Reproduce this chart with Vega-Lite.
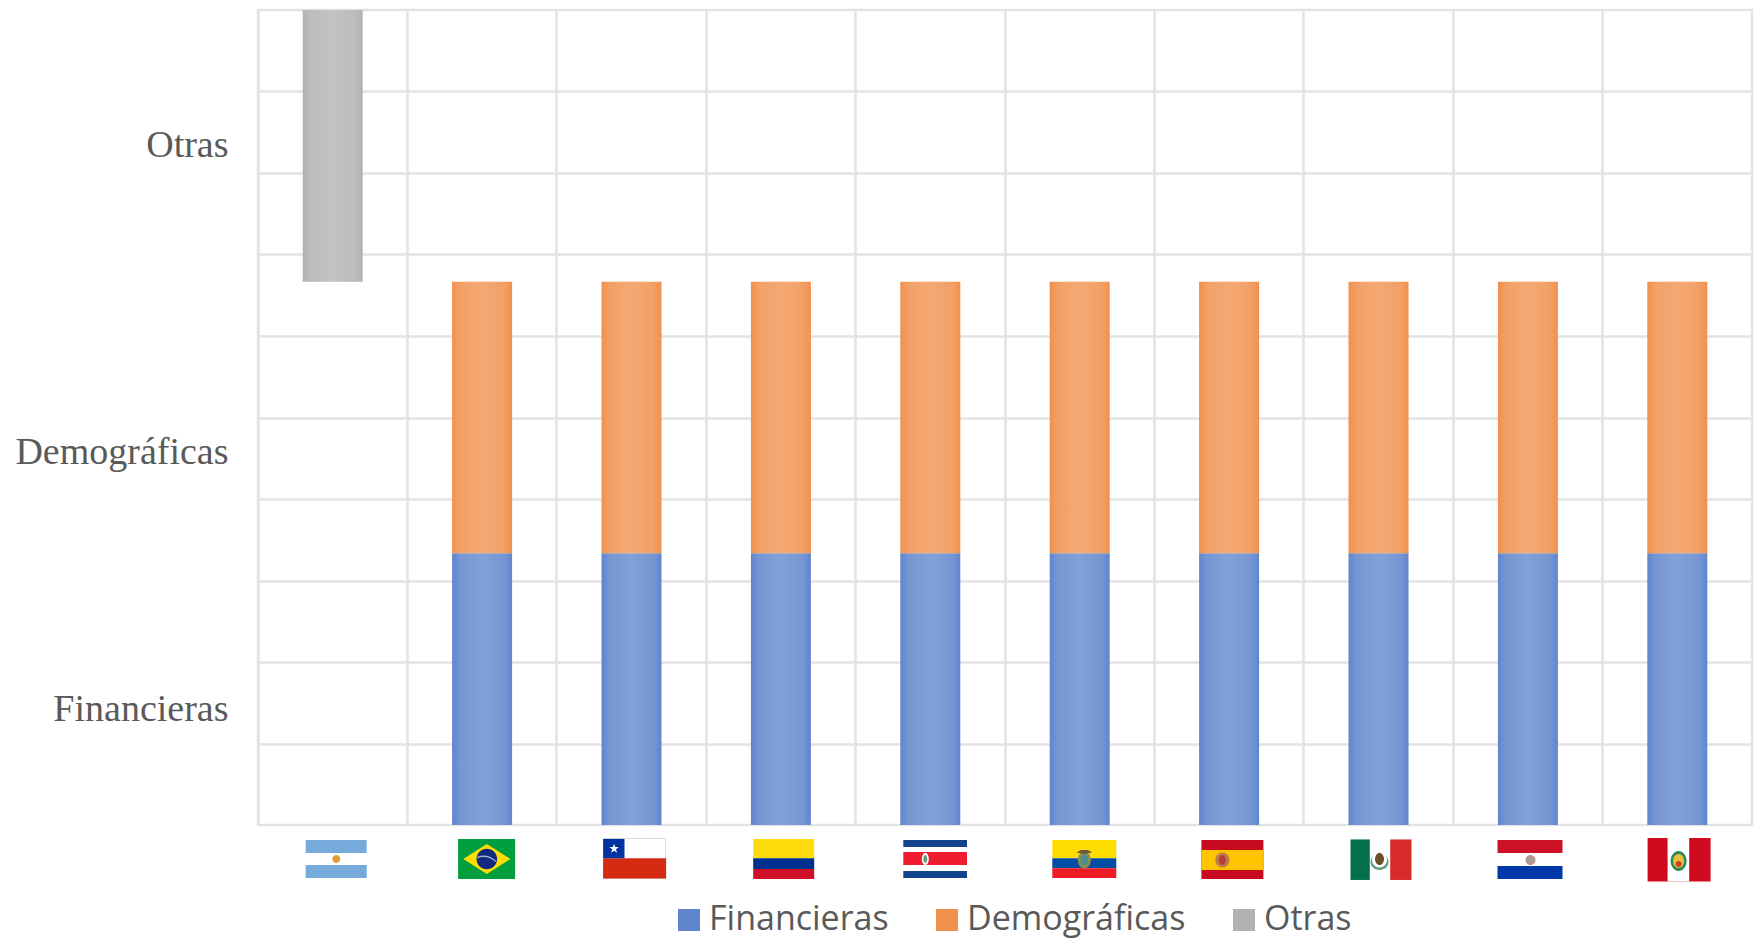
{"$schema":"https://vega.github.io/schema/vega-lite/v6.json","width":1494,"height":815,"autosize":{"type":"none"},"padding":{"left":258,"top":10,"right":6,"bottom":114},"background":"#ffffff","view":{"stroke":"#E3E3E3","strokeWidth":2.5,"fill":"#ffffff"},"datasets":{"barras":[{"pais":"Argentina","categoria":"Otras","desde":2,"hasta":3},{"pais":"Brasil","categoria":"Financieras","desde":0,"hasta":1},{"pais":"Brasil","categoria":"Demográficas","desde":1,"hasta":2},{"pais":"Chile","categoria":"Financieras","desde":0,"hasta":1},{"pais":"Chile","categoria":"Demográficas","desde":1,"hasta":2},{"pais":"Colombia","categoria":"Financieras","desde":0,"hasta":1},{"pais":"Colombia","categoria":"Demográficas","desde":1,"hasta":2},{"pais":"Costa Rica","categoria":"Financieras","desde":0,"hasta":1},{"pais":"Costa Rica","categoria":"Demográficas","desde":1,"hasta":2},{"pais":"Ecuador","categoria":"Financieras","desde":0,"hasta":1},{"pais":"Ecuador","categoria":"Demográficas","desde":1,"hasta":2},{"pais":"España","categoria":"Financieras","desde":0,"hasta":1},{"pais":"España","categoria":"Demográficas","desde":1,"hasta":2},{"pais":"México","categoria":"Financieras","desde":0,"hasta":1},{"pais":"México","categoria":"Demográficas","desde":1,"hasta":2},{"pais":"Paraguay","categoria":"Financieras","desde":0,"hasta":1},{"pais":"Paraguay","categoria":"Demográficas","desde":1,"hasta":2},{"pais":"Perú","categoria":"Financieras","desde":0,"hasta":1},{"pais":"Perú","categoria":"Demográficas","desde":1,"hasta":2}],"banderas":[{"pais":"Argentina","parte":"ar1"},{"pais":"Argentina","parte":"ar2"},{"pais":"Argentina","parte":"ar3"},{"pais":"Argentina","parte":"ar4"},{"pais":"Brasil","parte":"br1"},{"pais":"Brasil","parte":"br2"},{"pais":"Brasil","parte":"br3"},{"pais":"Brasil","parte":"br4"},{"pais":"Chile","parte":"cl1"},{"pais":"Chile","parte":"cl2"},{"pais":"Chile","parte":"cl3"},{"pais":"Chile","parte":"cl4"},{"pais":"Chile","parte":"cl5"},{"pais":"Colombia","parte":"co1"},{"pais":"Colombia","parte":"co2"},{"pais":"Colombia","parte":"co3"},{"pais":"Costa Rica","parte":"cr1"},{"pais":"Costa Rica","parte":"cr2"},{"pais":"Costa Rica","parte":"cr3"},{"pais":"Costa Rica","parte":"cr4"},{"pais":"Costa Rica","parte":"cr5"},{"pais":"Costa Rica","parte":"cr6"},{"pais":"Ecuador","parte":"ec1"},{"pais":"Ecuador","parte":"ec2"},{"pais":"Ecuador","parte":"ec3"},{"pais":"Ecuador","parte":"ec4"},{"pais":"Ecuador","parte":"ec5"},{"pais":"Ecuador","parte":"ec6"},{"pais":"España","parte":"es1"},{"pais":"España","parte":"es2"},{"pais":"España","parte":"es3"},{"pais":"España","parte":"es4"},{"pais":"México","parte":"mx1"},{"pais":"México","parte":"mx2"},{"pais":"México","parte":"mx3"},{"pais":"México","parte":"mx4"},{"pais":"México","parte":"mx5"},{"pais":"México","parte":"mx6"},{"pais":"Paraguay","parte":"py1"},{"pais":"Paraguay","parte":"py2"},{"pais":"Paraguay","parte":"py3"},{"pais":"Paraguay","parte":"py4"},{"pais":"Paraguay","parte":"py5"},{"pais":"Perú","parte":"pe1"},{"pais":"Perú","parte":"pe2"},{"pais":"Perú","parte":"pe3"},{"pais":"Perú","parte":"pe4"},{"pais":"Perú","parte":"pe5"}]},"layer":[{"data":{"name":"barras"},"mark":{"type":"bar","size":60,"opacity":1},"encoding":{"x":{"field":"pais","type":"nominal","sort":["Argentina","Brasil","Chile","Colombia","Costa Rica","Ecuador","España","México","Paraguay","Perú"],"scale":{"type":"band","paddingInner":0,"paddingOuter":0},"axis":{"title":null,"labels":false,"ticks":false,"domain":false,"grid":true,"bandPosition":0,"gridColor":"#E3E3E3","gridWidth":2.5}},"y":{"field":"desde","type":"quantitative","scale":{"domain":[0,3],"nice":false,"zero":false},"axis":{"title":null,"ticks":false,"domain":false,"grid":true,"gridColor":"#E3E3E3","gridWidth":2.5,"gridOpacity":{"condition":{"test":"indexof([0.383,1.33,2.462],datum.value)>=0","value":0},"value":1},"values":[0.3,0.6,0.9,1.2,1.5,1.8,2.1,2.4,2.7,0.383,1.33,2.462],"labelExpr":"datum.value==0.383?'Financieras':datum.value==1.33?'Demográficas':datum.value==2.462?'Otras':''","labelFont":"Liberation Serif","labelFontSize":38,"labelColor":"#595959","labelPadding":30,"labelBaseline":"alphabetic","labelLimit":300,"labelOverlap":false}},"y2":{"field":"hasta"},"color":{"field":"categoria","type":"nominal","scale":{"domain":["Financieras","Demográficas","Otras"],"range":["#5F86CC","#F0914D","#B2B2B2"]},"legend":{"title":null,"orient":"none","legendX":414,"legendY":893,"direction":"horizontal","columns":3,"symbolType":"square","symbolSize":484,"symbolStrokeWidth":0,"symbolOpacity":1,"labelFont":"Open Sans","labelFontSize":34,"labelColor":"#595959","labelOffset":3,"labelLimit":400,"columnPadding":41}}}},{"data":{"name":"barras"},"mark":{"type":"bar","size":60,"color":{"gradient":"linear","x1":0,"y1":0,"x2":1,"y2":0,"stops":[{"offset":0,"color":"rgba(255,255,255,0)"},{"offset":0.14,"color":"rgba(255,255,255,0.14)"},{"offset":0.5,"color":"rgba(255,255,255,0.22)"},{"offset":0.86,"color":"rgba(255,255,255,0.14)"},{"offset":1,"color":"rgba(255,255,255,0)"}]}},"encoding":{"x":{"field":"pais","type":"nominal","sort":["Argentina","Brasil","Chile","Colombia","Costa Rica","Ecuador","España","México","Paraguay","Perú"]},"y":{"field":"desde","type":"quantitative"},"y2":{"field":"hasta"}}},{"data":{"name":"banderas"},"mark":{"type":"point","filled":true,"size":4,"opacity":1,"strokeWidth":0,"clip":false},"encoding":{"x":{"field":"pais","type":"nominal","sort":["Argentina","Brasil","Chile","Colombia","Costa Rica","Ecuador","España","México","Paraguay","Perú"]},"y":{"datum":-0.125,"type":"quantitative"},"order":{"field":"parte","type":"nominal"},"color":{"field":"parte","type":"nominal","legend":null,"scale":{"domain":["ar1","ar2","ar3","ar4","br1","br2","br3","br4","cl1","cl2","cl3","cl4","cl5","co1","co2","co3","cr1","cr2","cr3","cr4","cr5","cr6","ec1","ec2","ec3","ec4","ec5","ec6","es1","es2","es3","es4","mx1","mx2","mx3","mx4","mx5","mx6","py1","py2","py3","py4","py5","pe1","pe2","pe3","pe4","pe5"],"range":["#ffffff","#75AADB","#75AADB","#DFA032","#009E3D","#FFDD00","#12297F","#9FB8D0","#D9D9D9","#ffffff","#D52B10","#0033A0","#ffffff","#FFDC0E","#00308F","#CE1126","#ffffff","#10438C","#10438C","#EE1C2E","#ffffff","#5E9E7A","#FFDD00","#034EA2","#ED1C24","#8F8B55","#4E8E8E","#6B5A36","#C60B1E","#FFC400","#C07A4A","#B5403A","#ffffff","#056F4A","#D62B28","#5E9E7A","#ffffff","#6E4E2A","#ffffff","#CE1126","#0038A8","#C4908C","#8FA89A","#D00A1E","#ffffff","#2E8B57","#E8C040","#C8402A"]}},"shape":{"field":"parte","type":"nominal","legend":null,"scale":{"domain":["ar1","ar2","ar3","ar4","br1","br2","br3","br4","cl1","cl2","cl3","cl4","cl5","co1","co2","co3","cr1","cr2","cr3","cr4","cr5","cr6","ec1","ec2","ec3","ec4","ec5","ec6","es1","es2","es3","es4","mx1","mx2","mx3","mx4","mx5","mx6","py1","py2","py3","py4","py5","pe1","pe2","pe3","pe4","pe5"],"range":["M-27,-19H34V19H-27Z","M-27,-19H34V-6H-27Z","M-27,6H34V19H-27Z","M-0.4,0a4,4 0 1,0 8,0a4,4 0 1,0 -8,0Z","M-24,-20H33V20H-24Z","M4.7,-15L28.2,0L4.7,15L-18.8,0Z","M-5.6,0a10.3,10.3 0 1,0 20.6,0a10.3,10.3 0 1,0 -20.6,0Z","M-5,-2Q5,-6 14,2L14,3.2Q5,-4.5 -5,-0.8Z","M-28.4,-21H34.6V20H-28.4Z","M-28.4,-20H33.6V0H-28.4Z","M-28.4,-0.7H34.6V19.5H-28.4Z","M-28.4,-20H-7V-0.7H-28.4Z","M-17.4,-15.3L-16.22,-11.92L-12.64,-11.85L-15.5,-9.68L-14.46,-6.25L-17.4,-8.3L-20.34,-6.25L-19.3,-9.68L-22.16,-11.85L-18.58,-11.92Z","M-27.7,-20H33.3V-0.7H-27.7Z","M-27.7,-0.7H33.3V10H-27.7Z","M-27.7,10H33.3V20H-27.7Z","M-27,-19H36.7V19H-27Z","M-27,-19H36.7V-12H-27Z","M-27,12H36.7V19H-27Z","M-27,-7H36.7V6H-27Z","M-8.5,0a3.5,6 0 1,0 7,0a3.5,6 0 1,0 -7,0Z","M-7,0a2,4 0 1,0 4,0a2,4 0 1,0 -4,0Z","M-27.4,-19H36.6V-0.7H-27.4Z","M-27.4,-0.7H36.6V9.3H-27.4Z","M-27.4,9.3H36.6V19H-27.4Z","M-1.9,1a6.5,8.5 0 1,0 13,0a6.5,8.5 0 1,0 -13,0Z","M0.6,1a4,5.5 0 1,0 8,0a4,5.5 0 1,0 -8,0Z","M-3.4,-6.5L4.6,-5L12.6,-6.5L8,-9L1.2,-9Z","M-27.7,-19H34.3V20H-27.7Z","M-27.7,-9H34.3V11H-27.7Z","M-13.7,1a7,7.5 0 1,0 14,0a7,7.5 0 1,0 -14,0Z","M-10.2,1a3.5,5 0 1,0 7,0a3.5,5 0 1,0 -7,0Z","M-28,-19.5H33V21H-28Z","M-28,-19.5H-8.7V21H-28Z","M11.7,-19.5H33V21H11.7Z","M-8,3a9,8 0 1,0 18,0a9,8 0 1,0 -18,0Z","M-6.5,1a7.5,7.5 0 1,0 15,0a7.5,7.5 0 1,0 -15,0Z","M-3.5,0a4.5,6 0 1,0 9,0a4.5,6 0 1,0 -9,0Z","M-30.4,-19H34.6V20H-30.4Z","M-30.4,-19H34.6V-6H-30.4Z","M-30.4,7H34.6V20H-30.4Z","M-2.4,1a5,5 0 1,0 10,0a5,5 0 1,0 -10,0Z","M0.1,1a2.5,2.5 0 1,0 5,0a2.5,2.5 0 1,0 -5,0Z","M-29.7,-21H33.3V22.5H-29.7Z","M-9.7,-21H11.9V22.5H-9.7Z","M-6.7,2a8,10 0 1,0 16,0a8,10 0 1,0 -16,0Z","M-4.2,2a5.5,7 0 1,0 11,0a5.5,7 0 1,0 -11,0Z","M-1.7,5a3,3 0 1,0 6,0a3,3 0 1,0 -6,0Z"]}}}}],"resolve":{"scale":{"color":"independent","shape":"independent"}}}
